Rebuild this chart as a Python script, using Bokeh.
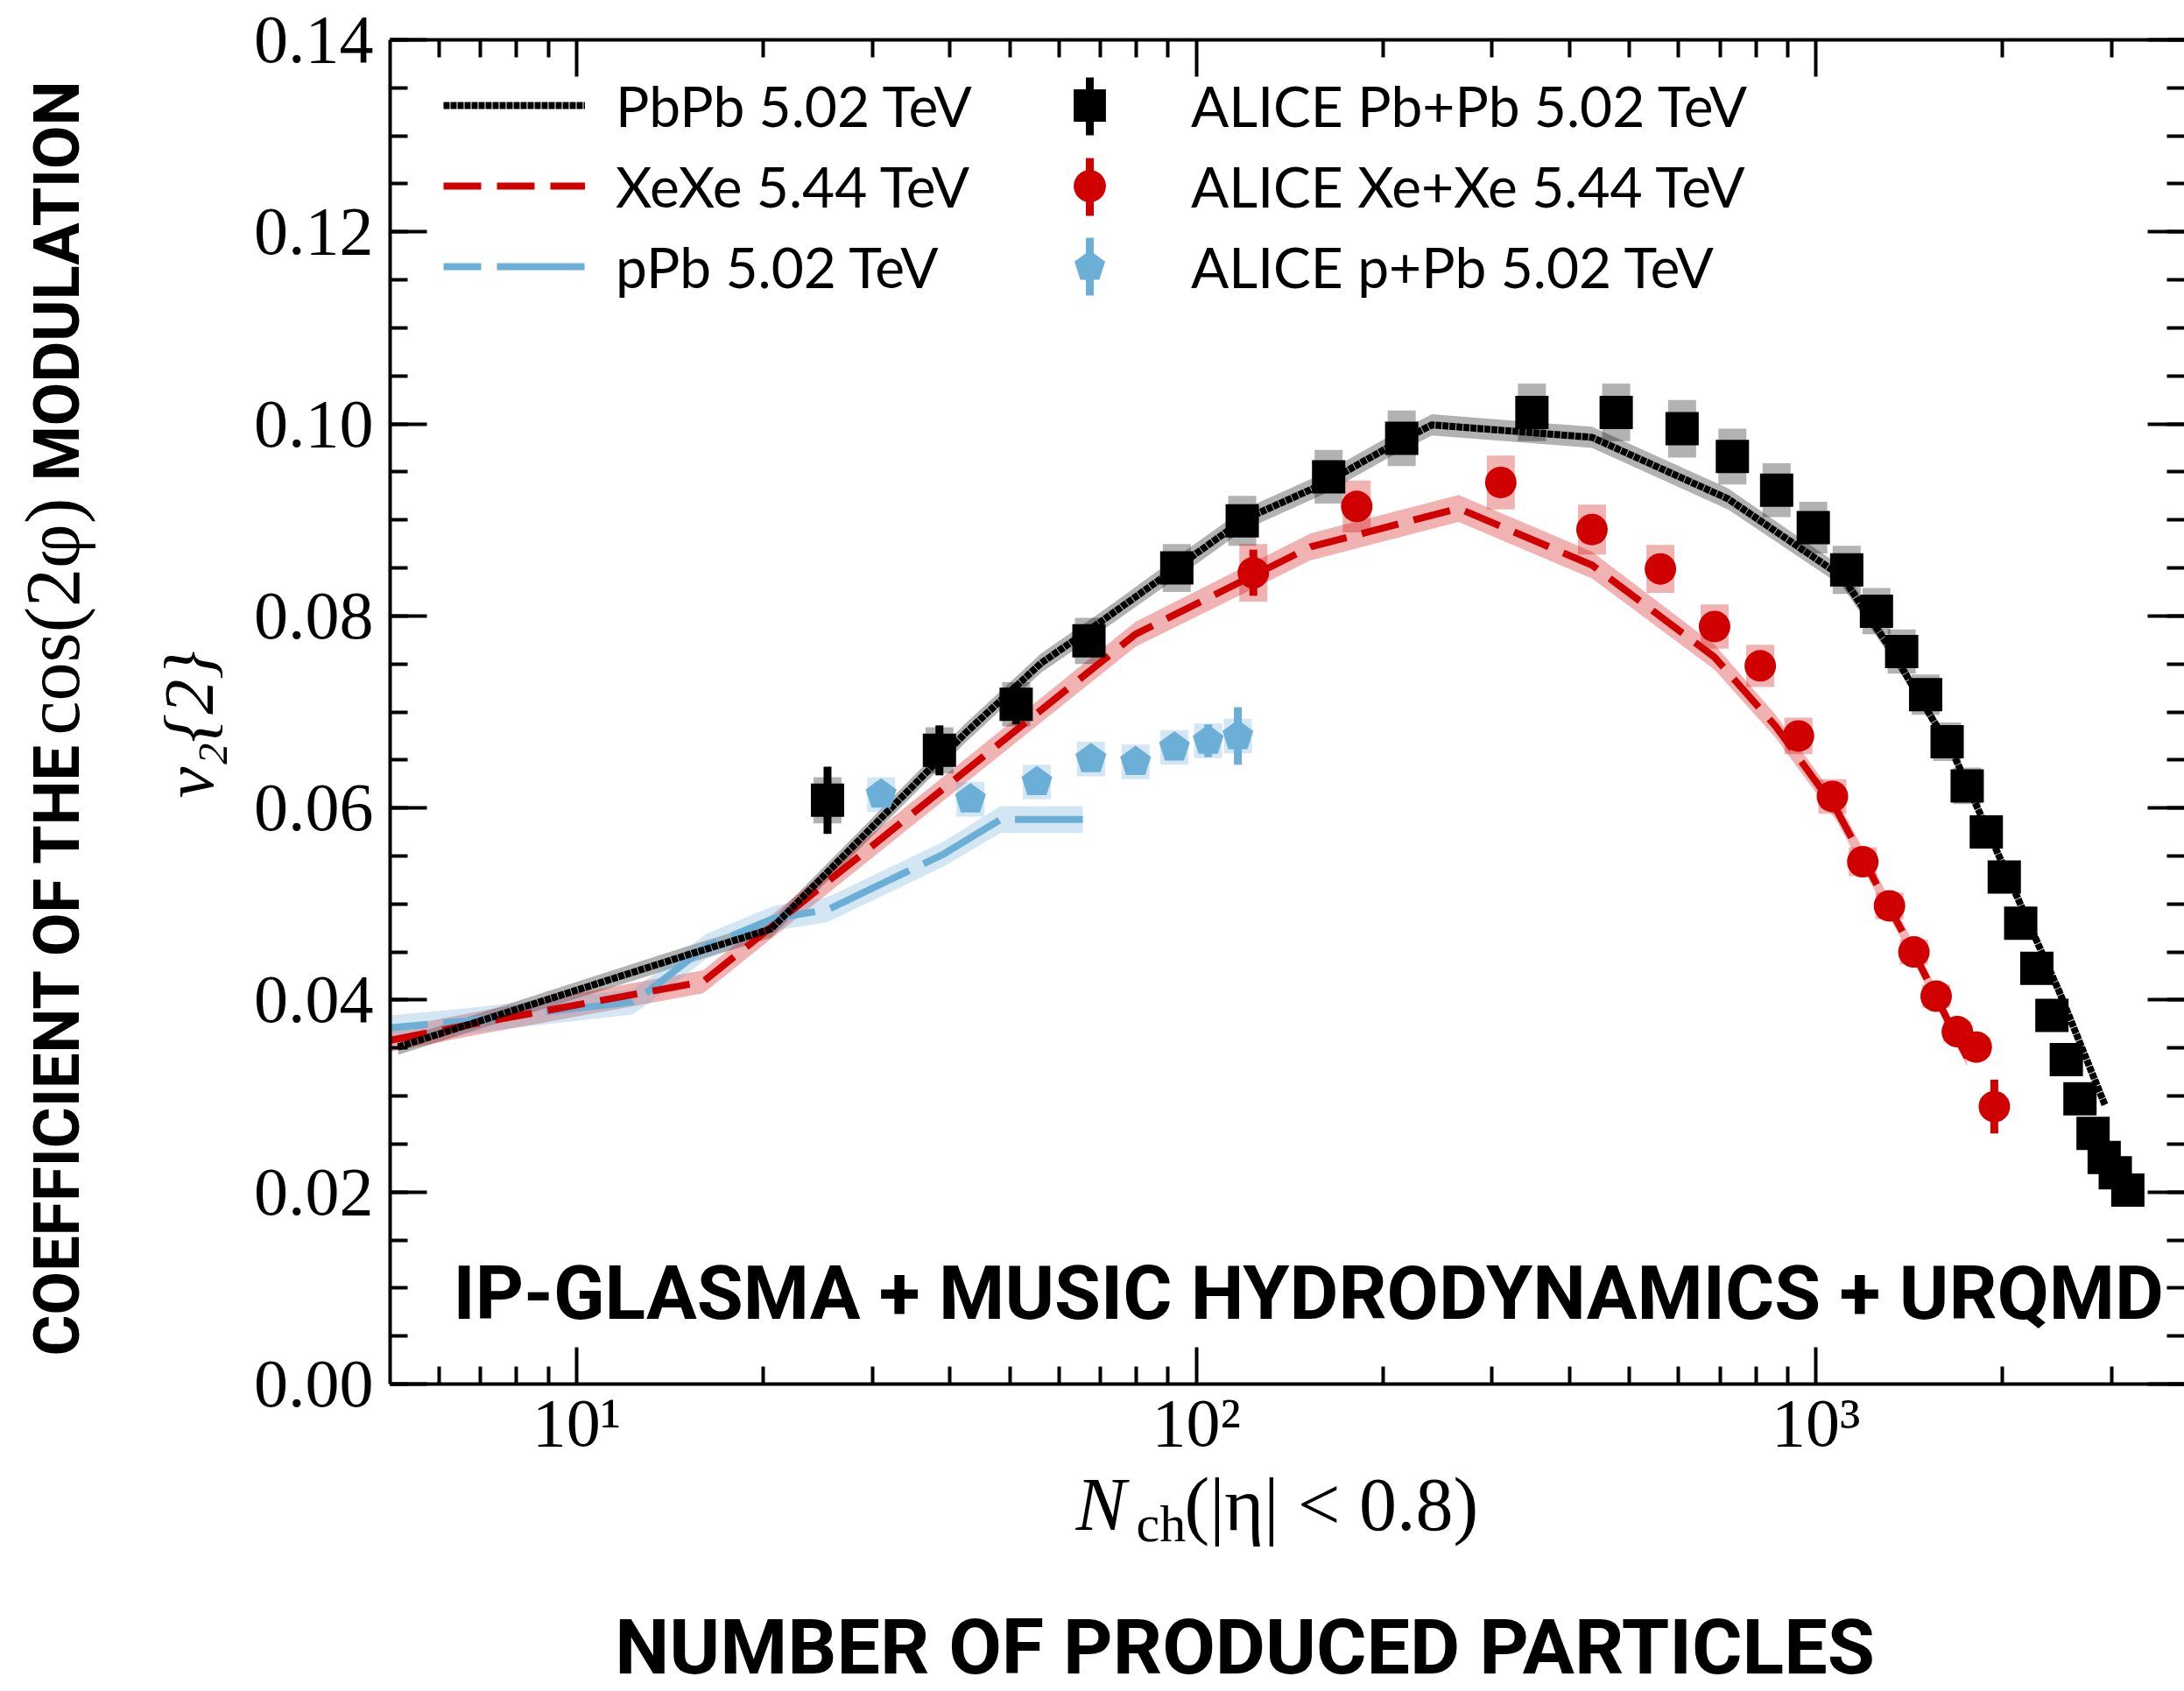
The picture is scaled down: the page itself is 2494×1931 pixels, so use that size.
from math import pi

from bokeh.embed import file_html
from bokeh.layouts import column, row
from bokeh.models import (BoxAnnotation, CustomJSTickFormatter, FixedTicker,
                          Label, Legend, LegendItem, LinearAxis, LogAxis,
                          NumeralTickFormatter, Range1d, SingleIntervalTicker)
from bokeh.plotting import figure
from bokeh.resources import INLINE

# ---------------------------------------------------------------------------
# IP-Glasma + MUSIC + UrQMD calculations: v2{2} vs Nch(|eta|<0.8)
# ---------------------------------------------------------------------------
pbpb_th_n = [5.15, 15.1, 20.6, 42.4, 56.2, 69.8, 97.5, 119, 161, 206, 240, 435,
             721, 1102, 1327, 1667, 1968, 2472, 2925]
pbpb_th_v = [0.0351, 0.0447, 0.0474, 0.0678, 0.0751, 0.0793, 0.0860, 0.0900,
             0.0938, 0.0977, 0.0999, 0.0986, 0.0922, 0.0841, 0.0763, 0.0656,
             0.0552, 0.0408, 0.0291]
pbpb_th_err = [0.0008, 0.0009, 0.0009, 0.0010, 0.0010, 0.0010, 0.0011, 0.0011,
               0.0011, 0.0011, 0.0011, 0.0011, 0.0011, 0.0010, 0.0008, 0.0006,
               0.0005, 0.0004, 0.0003]

xexe_th_n = [5.0, 6.8, 16.0, 79.8, 153, 265, 435, 686, 861, 1079, 1247, 1442,
             1667, 1754]
xexe_th_v = [0.0358, 0.0375, 0.0419, 0.0781, 0.0872, 0.0912, 0.0853, 0.0757,
             0.0685, 0.0598, 0.0523, 0.0448, 0.0367, 0.0340]
xexe_th_err = [0.0012, 0.0012, 0.0012, 0.0013, 0.0014, 0.0014, 0.0014, 0.0013,
               0.0012, 0.0011, 0.0010, 0.0010, 0.0009, 0.0009]

ppb_th_n = [5.0, 6.58, 12.3, 13.1, 16.2, 20.8, 25.4, 39.1, 48.3, 65.6]
ppb_th_v = [0.0371, 0.0378, 0.0398, 0.0410, 0.0456, 0.0485, 0.0494, 0.0552,
            0.0588, 0.0588]
ppb_th_err = [0.0013, 0.0013, 0.0013, 0.0013, 0.0013, 0.0013, 0.0013, 0.0013,
              0.0014, 0.0014]

# ---------------------------------------------------------------------------
# ALICE measurements (value, statistical and systematic uncertainty)
# ---------------------------------------------------------------------------
alice_pbpb_n = [25.4, 38.5, 51.2, 67.1, 93, 118.6, 163.5, 214.5, 348, 476, 608,
                733, 864, 990, 1121, 1252, 1375, 1503, 1628, 1754, 1883, 2013,
                2140, 2272, 2403, 2535, 2667, 2800, 2918, 3041, 3186]
alice_pbpb_v = [0.0608, 0.0660, 0.0708, 0.0774, 0.0850, 0.0899, 0.0945, 0.0985,
                0.1012, 0.1012, 0.0995, 0.0966, 0.0931, 0.0892, 0.0848, 0.0805,
                0.0763, 0.0718, 0.0669, 0.0623, 0.0575, 0.0528, 0.0480, 0.0433,
                0.0384, 0.0338, 0.0297, 0.0261, 0.0236, 0.0220, 0.0202]
alice_pbpb_stat = [0.0035, 0.0026, 0.0021, 0.0012, 0.0010, 0.0008, 0.0006,
                   0.0006, 0.0005, 0.0005, 0.0005, 0.0005, 0.0005, 0.0005,
                   0.0005, 0.0005, 0.0005, 0.0005, 0.0005, 0.0005, 0.0005,
                   0.0005, 0.0005, 0.0005, 0.0005, 0.0005, 0.0005, 0.0005,
                   0.0005, 0.0005, 0.0005]
alice_pbpb_sys = [0.0024, 0.0024, 0.0023, 0.0024, 0.0025, 0.0026, 0.0028,
                  0.0029, 0.0030, 0.0030, 0.0030, 0.0029, 0.0028, 0.0027,
                  0.0025, 0.0024, 0.0023, 0.0021, 0.0020, 0.0019, 0.0017,
                  0.0016, 0.0014, 0.0013, 0.0012, 0.0010, 0.0009, 0.0008,
                  0.0007, 0.0007, 0.0006]

alice_xexe_n = [123.6, 181.5, 310, 435, 561, 686, 813, 937, 1063, 1190, 1314,
                1439, 1563, 1691, 1814, 1940]
alice_xexe_v = [0.0845, 0.0914, 0.0939, 0.0890, 0.0849, 0.0789, 0.0748, 0.0675,
                0.0612, 0.0544, 0.0498, 0.0450, 0.0404, 0.0367, 0.0351, 0.0289]
alice_xexe_stat = [0.0024, 0.0012, 0.0010, 0.0008, 0.0008, 0.0008, 0.0008,
                   0.0008, 0.0008, 0.0008, 0.0009, 0.0010, 0.0011, 0.0012,
                   0.0014, 0.0028]
alice_xexe_sys = [0.0030, 0.0027, 0.0028, 0.0026, 0.0025, 0.0023, 0.0022,
                  0.0019, 0.0018, 0.0015, 0.0014, 0.0013, 0.0012, 0.0011,
                  0.0010, 0.0009]

alice_ppb_n = [31.0, 43.2, 55.3, 67.6, 79.8, 92.2, 104.5, 116.7]
alice_ppb_v = [0.0614, 0.0609, 0.0627, 0.0651, 0.0648, 0.0663, 0.0670, 0.0675]
alice_ppb_stat = [0.0008, 0.0008, 0.0008, 0.0008, 0.0008, 0.0008, 0.0017, 0.0030]
alice_ppb_sys = [0.0018, 0.0018, 0.0018, 0.0018, 0.0018, 0.0018, 0.0018, 0.0018]

x_tick_values = [10, 100, 1000]
x_tick_labels = ["10¹", "10²", "10³"]

# ---------------------------------------------------------------------------
BLACK = "#000000"
RED = "#d00000"
BLUE = "#6baed6"

W, H = 2494, 1931
STRIP_W = 260            # left strip holding the rotated axis titles
TOP_H = 1670             # height of the row with the data panel
LEFT, TOP = 445, 45      # data frame origin on the page
FRAME_BOTTOM = 1583
SERIF = "Liberation Serif"
BOLD_SANS = "Roboto"
LEGEND_FONT = "Lato"
# distance from the centre line of a text box down to its baseline (in em)
MID_TO_BASE = {SERIF: 0.3375, BOLD_SANS: 0.342}

p = figure(width=W - STRIP_W, height=TOP_H, x_axis_type="log",
           x_range=Range1d(5, 3932), y_range=Range1d(0, 0.14),
           output_backend="svg", toolbar_location=None,
           min_border_left=LEFT - STRIP_W, min_border_right=0,
           min_border_top=TOP, min_border_bottom=TOP_H - FRAME_BOTTOM)
p.outline_line_color = None
p.background_fill_color = "white"
p.border_fill_color = "white"
p.xgrid.visible = False
p.ygrid.visible = False

x_ticker = FixedTicker(
    ticks=x_tick_values,
    minor_ticks=[6, 7, 8, 9, 20, 30, 40, 50, 60, 70, 80, 90,
                 200, 300, 400, 500, 600, 700, 800, 900, 2000, 3000])
y_ticker = SingleIntervalTicker(interval=0.02, num_minor_ticks=4)
blank_labels = CustomJSTickFormatter(code="return ''")


def style_axis(ax, labels=True):
    ax.axis_line_width = 4
    ax.axis_line_color = BLACK
    ax.major_tick_in = 42
    ax.major_tick_out = 0
    ax.minor_tick_in = 20
    ax.minor_tick_out = 0
    ax.major_tick_line_width = 4
    ax.minor_tick_line_width = 4
    ax.major_tick_line_color = BLACK
    ax.minor_tick_line_color = BLACK
    if labels:
        ax.major_label_text_font = SERIF
        ax.major_label_text_font_size = "78px"
        ax.major_label_text_color = BLACK
    else:
        ax.formatter = blank_labels
        ax.major_label_text_font_size = "1px"
        ax.major_label_standoff = 0


xa = p.xaxis[0]
xa.ticker = x_ticker
xa.major_label_overrides = dict(zip(x_tick_values, x_tick_labels))
xa.major_label_standoff = 0
style_axis(xa)

ya = p.yaxis[0]
ya.ticker = y_ticker
ya.formatter = NumeralTickFormatter(format="0.00")
ya.major_label_standoff = 19
style_axis(ya)

top_axis = LogAxis(ticker=x_ticker)
style_axis(top_axis, labels=False)
p.add_layout(top_axis, "above")

right_axis = LinearAxis(ticker=y_ticker)
style_axis(right_axis, labels=False)
right_axis.axis_line_alpha = 0
p.add_layout(right_axis, "right")


def band(n, v, err, color):
    p.varea(x=n, y1=[a - e for a, e in zip(v, err)],
            y2=[a + e for a, e in zip(v, err)],
            fill_color=color, fill_alpha=0.3)


def sys_boxes(n, v, sys, color):
    p.rect(x=n, y=v, width=32, height=[2 * s for s in sys],
           width_units="screen", fill_color=color, fill_alpha=0.3,
           line_color=None)


def stat_bars(n, v, stat, color):
    p.segment(x0=n, x1=n, y0=[a - e for a, e in zip(v, stat)],
              y1=[a + e for a, e in zip(v, stat)],
              line_color=color, line_width=9)


# theory bands
band(pbpb_th_n, pbpb_th_v, pbpb_th_err, BLACK)
band(xexe_th_n, xexe_th_v, xexe_th_err, RED)
band(ppb_th_n, ppb_th_v, ppb_th_err, BLUE)

# systematic boxes of the measurements
sys_boxes(alice_pbpb_n, alice_pbpb_v, alice_pbpb_sys, BLACK)
sys_boxes(alice_xexe_n, alice_xexe_v, alice_xexe_sys, RED)
sys_boxes(alice_ppb_n, alice_ppb_v, alice_ppb_sys, BLUE)

# theory central curves
ppb_line = p.line(ppb_th_n, ppb_th_v, line_color=BLUE, line_width=8,
                  line_dash="100 18", line_dash_offset=57)
xexe_line = p.line(xexe_th_n, xexe_th_v, line_color=RED, line_width=8,
                   line_dash="43 18")
pbpb_line = p.line(pbpb_th_n, pbpb_th_v, line_color=BLACK, line_width=8,
                   line_dash="7 1")

# statistical error bars and markers
stat_bars(alice_ppb_n, alice_ppb_v, alice_ppb_stat, BLUE)
stat_bars(alice_xexe_n, alice_xexe_v, alice_xexe_stat, RED)
stat_bars(alice_pbpb_n, alice_pbpb_v, alice_pbpb_stat, BLACK)

ppb_pts = p.ngon(x=alice_ppb_n, y=alice_ppb_v, radius=18.5, radius_units="screen",
                 n=5, fill_color=BLUE, line_color=None)
xexe_pts = p.scatter(alice_xexe_n, alice_xexe_v, marker="circle", size=36,
                     fill_color=RED, line_color=None)
pbpb_pts = p.scatter(alice_pbpb_n, alice_pbpb_v, marker="square", size=38,
                     fill_color=BLACK, line_color=None)


# ---------------------------------------------------------------------------
# legends (frame-relative screen positions)
# ---------------------------------------------------------------------------
def sx(X):
    return X - LEFT


def sy(Y):
    return FRAME_BOTTOM - Y


row_y = [124, 216, 307]
for yy, c in zip(row_y, [BLACK, RED, BLUE]):
    p.add_layout(BoxAnnotation(left=sx(1239.5), right=sx(1248.5),
                               bottom=sy(yy + 33), top=sy(yy - 33),
                               left_units="screen", right_units="screen",
                               bottom_units="screen", top_units="screen",
                               fill_color=c, fill_alpha=1.0, line_color=None))

legend_common = dict(orientation="vertical", spacing=0, padding=0, margin=0,
                     border_line_alpha=0, background_fill_alpha=0,
                     glyph_height=92, label_height=92,
                     label_text_font=LEGEND_FONT, label_text_font_size="64px",
                     label_text_color=BLACK)
legend_bottom = sy(row_y[-1] + 46)

theory_legend = Legend(
    items=[LegendItem(label="PbPb 5.02 TeV", renderers=[pbpb_line]),
           LegendItem(label="XeXe 5.44 TeV", renderers=[xexe_line]),
           LegendItem(label="pPb 5.02 TeV", renderers=[ppb_line])],
    location=(sx(506), legend_bottom), glyph_width=162, label_standoff=35,
    **legend_common)
data_legend = Legend(
    items=[LegendItem(label="ALICE Pb+Pb 5.02 TeV", renderers=[pbpb_pts]),
           LegendItem(label="ALICE Xe+Xe 5.44 TeV", renderers=[xexe_pts]),
           LegendItem(label="ALICE p+Pb 5.02 TeV", renderers=[ppb_pts])],
    location=(sx(1198), legend_bottom), glyph_width=92, label_standoff=70,
    **legend_common)
p.add_layout(theory_legend)
p.add_layout(data_legend)


def flat_text(fig, t, x, base_y, size, font, style="normal", align="left"):
    """Horizontal text; base_y is the baseline height above the frame bottom."""
    fig.add_layout(Label(x=x, y=base_y + MID_TO_BASE[font] * size,
                         x_units="screen", y_units="screen", text=t,
                         text_font=font, text_font_size=f"{size}px",
                         text_font_style=style, text_color=BLACK,
                         text_align=align, text_baseline="middle"))


def upright_text(fig, t, base_x, y, size, font, style="normal", align="left"):
    """Text rotated to read upwards; base_x is the baseline position."""
    fig.add_layout(Label(x=base_x - MID_TO_BASE[font] * size, y=y,
                         x_units="screen", y_units="screen", text=t,
                         text_font=font, text_font_size=f"{size}px",
                         text_font_style=style, text_color=BLACK,
                         angle=pi / 2, text_align=align,
                         text_baseline="middle"))


flat_text(p, "IP-GLASMA + MUSIC HYDRODYNAMICS + URQMD", sx(517), sy(1508), 86,
          BOLD_SANS, "bold")


# ---------------------------------------------------------------------------
# text-only panels for the axis titles
# ---------------------------------------------------------------------------
def text_panel(width, height):
    f = figure(width=width, height=height, x_range=Range1d(0, 1),
               y_range=Range1d(0, 1), output_backend="svg",
               toolbar_location=None, x_axis_location=None,
               y_axis_location=None, min_border=0)
    f.outline_line_color = None
    f.xgrid.visible = False
    f.ygrid.visible = False
    f.background_fill_color = "white"
    f.border_fill_color = "white"
    return f


# the strip's frame is aligned with the data frame (page rows 45..1583)
left_strip = text_panel(STRIP_W, TOP_H)
upright_text(left_strip, "COEFFICIENT OF THE", 90, FRAME_BOTTOM - 1551, 72,
             BOLD_SANS, "bold")
upright_text(left_strip, "cos(2φ)", 90, FRAME_BOTTOM - 842, 88, SERIF)
upright_text(left_strip, "MODULATION", 90, FRAME_BOTTOM - 95, 72, BOLD_SANS,
             "bold", align="right")
left_strip.add_layout(Label(x=215, y=FRAME_BOTTOM - 830, x_units="screen",
                            y_units="screen", text="v₂{2}", text_font=SERIF,
                            text_font_size="80px", text_font_style="italic",
                            text_color=BLACK, angle=pi / 2, text_align="center",
                            text_baseline="middle"))

bottom_strip = text_panel(W, H - TOP_H)
flat_text(bottom_strip, "N", 1228, H - 1747, 86, SERIF, "italic")
flat_text(bottom_strip, "ch", 1297, H - 1760, 60, SERIF)
flat_text(bottom_strip, "(|η| < 0.8)", 1352, H - 1747, 86, SERIF)
flat_text(bottom_strip, "NUMBER OF PRODUCED PARTICLES", 1421, H - 1910, 88,
          BOLD_SANS, "bold", align="center")

page = column(row(left_strip, p, spacing=0), bottom_strip, spacing=0)

open("out.html", "w").write(file_html(page, INLINE))
